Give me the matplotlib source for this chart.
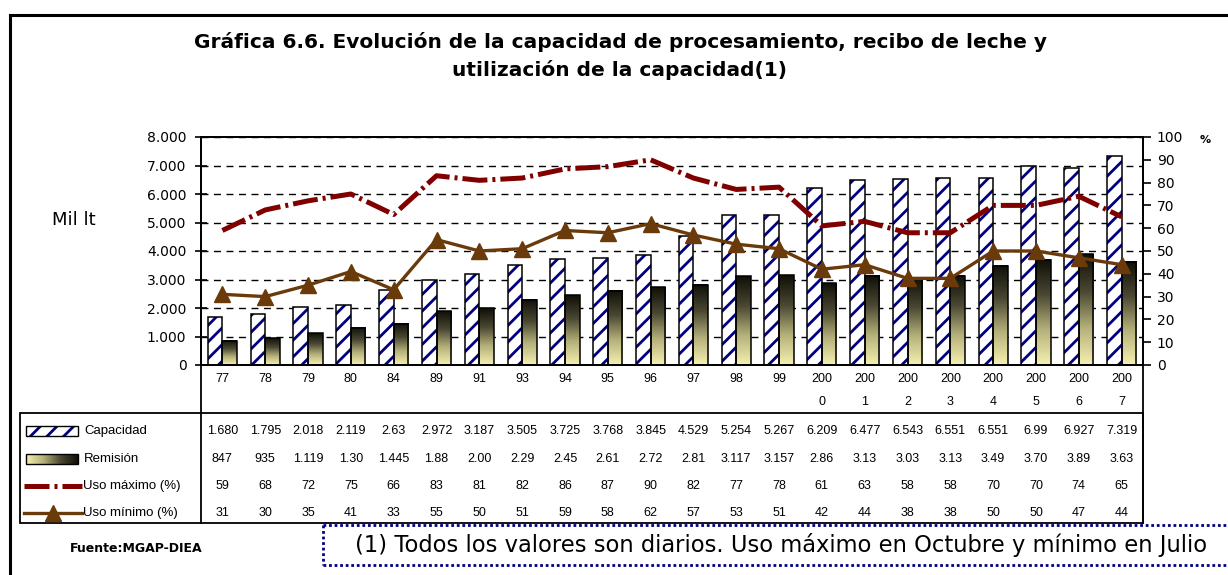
import matplotlib

matplotlib.use("Agg")
import matplotlib.pyplot as plt
import numpy as np
from matplotlib.colors import LinearSegmentedColormap
from matplotlib.patches import Rectangle
from matplotlib.ticker import FuncFormatter, MultipleLocator
from matplotlib.transforms import blended_transform_factory

anios = ["77", "78", "79", "80", "84", "89", "91", "93", "94", "95", "96", "97", "98", "99",
         "2000", "2001", "2002", "2003", "2004", "2005", "2006", "2007"]
# valores tal como aparecen en la tabla de datos (miles de litros)
capacidad_txt = ["1.680", "1.795", "2.018", "2.119", "2.63", "2.972", "3.187", "3.505", "3.725", "3.768",
                 "3.845", "4.529", "5.254", "5.267", "6.209", "6.477", "6.543", "6.551", "6.551", "6.99",
                 "6.927", "7.319"]
remision_txt = ["847", "935", "1.119", "1.30", "1.445", "1.88", "2.00", "2.29", "2.45", "2.61", "2.72",
                "2.81", "3.117", "3.157", "2.86", "3.13", "3.03", "3.13", "3.49", "3.70", "3.89", "3.63"]
uso_maximo = [59, 68, 72, 75, 66, 83, 81, 82, 86, 87, 90, 82, 77, 78, 61, 63, 58, 58, 70, 70, 74, 65]
uso_minimo = [31, 30, 35, 41, 33, 55, 50, 51, 59, 58, 62, 57, 53, 51, 42, 44, 38, 38, 50, 50, 47, 44]

W, H = 1228, 575
RED = "#800000"
BROWN = "#6b3a0a"
NAVY = "#000080"
DASHDOT = (0, (5, 1.0, 0.6, 1.0))


def to_num(s: str) -> int:
    if "." in s:
        a, b = s.split(".")
        return int(a) * 1000 + int(b.ljust(3, "0"))
    return int(s)


def fig_rect(x0, y0, x1, y1):
    return [x0 / W, 1 - y1 / H, (x1 - x0) / W, (y1 - y0) / H]


capacidad = [to_num(s) for s in capacidad_txt]
remision = [to_num(s) for s in remision_txt]
x = np.arange(len(anios))

plt.rcParams["hatch.linewidth"] = 2.0
grad_cmap = LinearSegmentedColormap.from_list("rem", ["#f4f0b0", "#b4b07a", "#4a4832", "#101008"])

fig = plt.figure(figsize=(W / 100, H / 100), dpi=100)
ax = fig.add_axes(fig_rect(201, 137, 1143, 365))
ax2 = ax.twinx()

bw = 0.34
ax.bar(x - bw / 2, capacidad, width=bw, color="white", edgecolor=NAVY, hatch="//", linewidth=0, zorder=2)
ax.bar(x - bw / 2, capacidad, width=bw, fill=False, edgecolor="black", linewidth=1.1, zorder=3)
grad = np.linspace(0, 1, 64).reshape(-1, 1)
for xi, h in zip(x, remision):
    ax.imshow(grad, extent=[xi, xi + bw, 0, h], origin="lower", aspect="auto", cmap=grad_cmap, zorder=2)
    ax.add_patch(Rectangle((xi, 0), bw, h, fill=False, edgecolor="black", linewidth=1.1, zorder=3))

ax.set_xlim(-0.5, len(anios) - 0.5)
ax.set_ylim(0, 8000)
ax.yaxis.set_major_locator(MultipleLocator(1000))
ax.yaxis.set_major_formatter(FuncFormatter(lambda v, _: f"{int(v):,}".replace(",", ".")))
ax.grid(True, axis="y", color="black", linestyle=(0, (5, 4)), linewidth=1)
ax.set_axisbelow(True)
ax.set_xticks([])
ax.tick_params(axis="y", direction="inout", length=9, width=1.2, labelsize=10, pad=6)

ax2.plot(x, uso_maximo, color=RED, linewidth=3.6, linestyle=DASHDOT, zorder=4)
ax2.plot(x, uso_minimo, color=BROWN, linewidth=2.4, marker="^", markersize=11, zorder=5)
ax2.set_ylim(0, 100)
ax2.yaxis.set_major_locator(MultipleLocator(10))
ax2.tick_params(axis="y", direction="out", length=6, width=1.2, labelsize=10, pad=4)
for a in (ax, ax2):
    for sp in a.spines.values():
        sp.set_linewidth(1.3)
        sp.set_color("black")

# capa en coordenadas de pixel para textos, tabla y marcos
ov = fig.add_axes([0, 0, 1, 1], zorder=5)
ov.patch.set_visible(False)
ov.axis("off")
tr = blended_transform_factory(ax.transData, ov.transData)

# tabla de datos
table_font = dict(family="Liberation Sans", fontsize=9, ha="center", va="center")
for i, anio in enumerate(anios):
    if len(anio) > 2:
        ov.text(i, 379, anio[:3], transform=tr, **table_font)
        ov.text(i, 402, anio[3:], transform=tr, **table_font)
    else:
        ov.text(i, 379, anio, transform=tr, **table_font)
    ov.text(i, 431, capacidad_txt[i], transform=tr, **table_font)
    ov.text(i, 459, remision_txt[i], transform=tr, **table_font)
    ov.text(i, 486, str(uso_maximo[i]), transform=tr, **table_font)
    ov.text(i, 513, str(uso_minimo[i]), transform=tr, **table_font)

ov.plot([201, 201], [365, 523], color="black", linewidth=1.3)
ov.plot([1143, 1143], [365, 523], color="black", linewidth=1.3)
ov.add_patch(Rectangle((20, 413), 1123, 110, fill=False, edgecolor="black", linewidth=1.3))

# claves de la leyenda en la tabla
ov.add_patch(Rectangle((26, 426), 52, 10, facecolor="white", edgecolor=NAVY, hatch="//", linewidth=0))
ov.add_patch(Rectangle((26, 426), 52, 10, fill=False, edgecolor="black", linewidth=1))
ov.imshow(np.linspace(0, 1, 64).reshape(1, -1), extent=[26, 78, 464, 454], aspect="auto",
          cmap=grad_cmap)
ov.add_patch(Rectangle((26, 454), 52, 10, fill=False, edgecolor="black", linewidth=1))
ov.plot([24, 82], [486, 486], color=RED, linewidth=3.6, linestyle=DASHDOT)
ov.plot([24, 82], [513, 513], color=BROWN, linewidth=2.4)
ov.plot([53], [513], color=BROWN, marker="^", markersize=11)
legend_font = dict(family="Liberation Sans", fontsize=9.5, ha="left", va="center")
ov.text(84, 431, "Capacidad", **legend_font)
ov.text(84, 459, "Remisión", **legend_font)
ov.text(83, 486, "Uso máximo (%)", **legend_font)
ov.text(83, 513, "Uso mínimo (%)", **legend_font)

# titulos y notas
ov.text(620, 42, "Gráfica 6.6. Evolución de la capacidad de procesamiento, recibo de leche y",
        fontsize=14.5, fontweight="bold", ha="center", va="center")
ov.text(620, 70, "utilización de la capacidad(1)", fontsize=14.5, fontweight="bold",
        ha="center", va="center")
ov.text(52, 220, "Mil lt", fontsize=13, ha="left", va="center")
ov.text(1205, 140, "%", fontsize=8, fontweight="bold", ha="center", va="center")
ov.text(70, 549, "Fuente:MGAP-DIEA", fontsize=9, fontweight="bold", ha="left", va="center")
ov.text(355, 545, "(1) Todos los valores son diarios. Uso máximo en Octubre y mínimo en Julio",
        fontsize=16.3, ha="left", va="center")

ov.plot([323, 323], [525, 565], color=NAVY, linewidth=2, linestyle=(0, (1, 1)))
ov.plot([323, 1228], [525, 525], color=NAVY, linewidth=2, linestyle=(0, (1, 1)))
ov.plot([323, 1228], [565, 565], color=NAVY, linewidth=2, linestyle=(0, (1, 1)))

# marco exterior
ov.plot([10, 1228], [15, 15], color="black", linewidth=2.2)
ov.plot([10, 10], [15, 575], color="black", linewidth=2.2)

ov.set_xlim(0, W)
ov.set_ylim(H, 0)

fig.savefig("out.png", dpi=100)
plt.close(fig)
